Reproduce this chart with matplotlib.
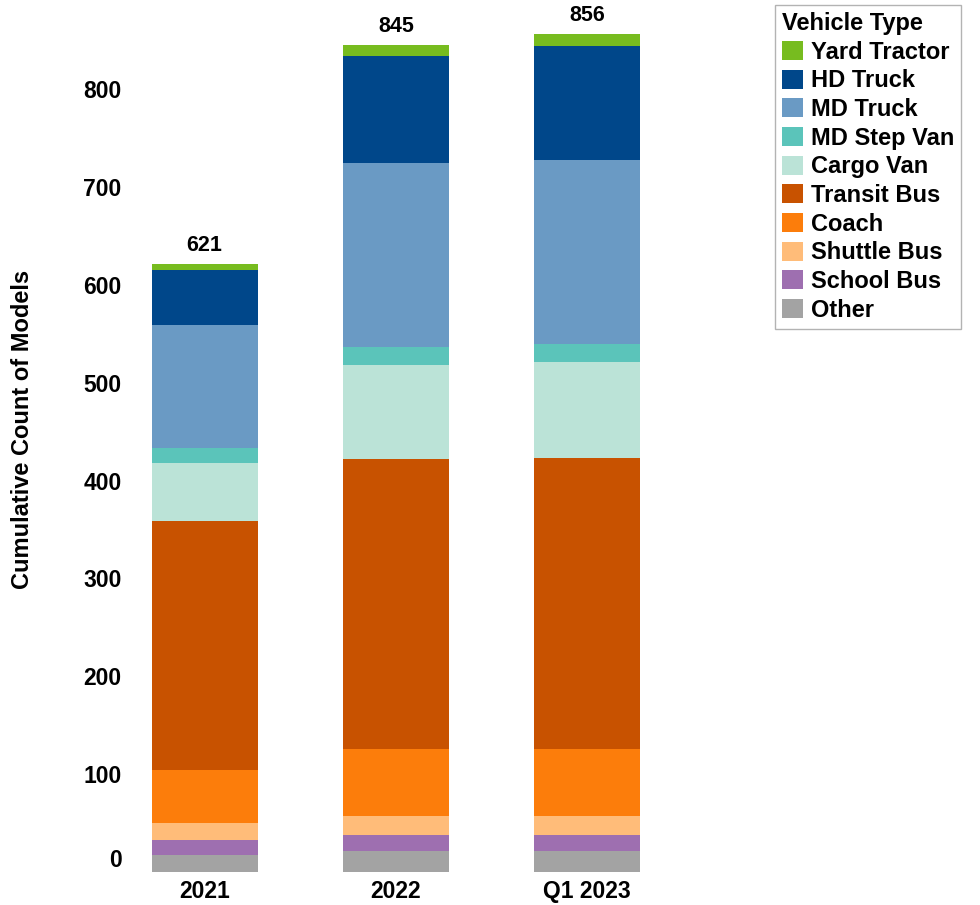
import numpy as np
import matplotlib
matplotlib.use("Agg")
import matplotlib.pyplot as plt
from matplotlib.transforms import ScaledTranslation

plt.rcParams['font.family'] = ['Liberation Sans', 'DejaVu Sans']

# %% data
periods = ['2021', '2022', 'Q1 2023']
vehicle_types = ['Other', 'School Bus', 'Shuttle Bus', 'Coach', 'Transit Bus',
                 'Cargo Van', 'MD Step Van', 'MD Truck', 'HD Truck', 'Yard Tractor']
other = [17, 21, 21]
school_bus = [16, 17, 17]
shuttle_bus = [17, 19, 19]
coach = [54, 69, 69]
transit_bus = [255, 296, 297]
cargo_van = [59, 96, 98]
md_step_van = [15, 19, 19]
md_truck = [126, 188, 188]
hd_truck = [56, 109, 116]
yard_tractor = [6, 11, 12]
totals = [621, 845, 856]

series = [other, school_bus, shuttle_bus, coach, transit_bus,
          cargo_van, md_step_van, md_truck, hd_truck, yard_tractor]
colors = ['#a3a3a3', '#9e6fb0', '#ffbc79', '#fc7d0b', '#c85200',
          '#bbe3d7', '#5bc4ba', '#6a9ac4', '#00478a', '#77bc1f']

# %% plot
fig = plt.figure(figsize=(9.8, 9.05), dpi=100)
ax = fig.add_axes([130/980, 33/905, 600/980, 861/905])

x = np.arange(len(periods))
bottom = np.zeros(len(periods))
handles = []
for name, vals, col in zip(vehicle_types, series, colors):
    b = ax.bar(x, vals, width=0.555, bottom=bottom, color=col, label=name, linewidth=0)
    handles.append(b)
    bottom += np.array(vals)

for xi, t in zip(x, totals):
    ax.annotate(str(t), (xi, t), xytext=(0, 6), textcoords='offset points',
                ha='center', va='bottom', fontsize=15.5, fontweight='bold')

ax.set_xlim(-0.39, -0.39 + 600/191.3)
ax.set_ylim(0, 880)
ax.set_xticks(x, periods, fontsize=16.5, fontweight='bold')
ax.set_yticks(np.arange(0, 801, 100))
ax.set_yticklabels([str(v) for v in range(0, 801, 100)], fontsize=16.5, fontweight='bold')
ax.tick_params(axis='both', length=0)
ax.tick_params(axis='y', pad=6)
ax.tick_params(axis='x', pad=6)
for s in ax.spines.values():
    s.set_visible(False)

# the zero label sits a little above the baseline in the original
lbl0 = ax.get_yticklabels()[0]
lbl0.set_transform(lbl0.get_transform() + ScaledTranslation(0, 0.14, fig.dpi_scale_trans))

fig.text(23/980, 1 - 429/905, 'Cumulative Count of Models', rotation=90,
         ha='center', va='center', fontsize=17, fontweight='bold')

leg = fig.legend(handles[::-1], vehicle_types[::-1], title='Vehicle Type',
                 loc='upper left', bbox_to_anchor=(775/980, 1 - 5/905),
                 prop={'size': 17, 'weight': 'bold'},
                 title_fontproperties={'size': 17, 'weight': 'bold'},
                 alignment='left', fancybox=False, edgecolor='#a0a0a0',
                 handlelength=0.87, handleheight=0.87, handletextpad=0.35,
                 labelspacing=0.24, borderpad=0.3, borderaxespad=0)
leg.get_frame().set_linewidth(1.0)

plt.savefig('out.png', dpi=100)
